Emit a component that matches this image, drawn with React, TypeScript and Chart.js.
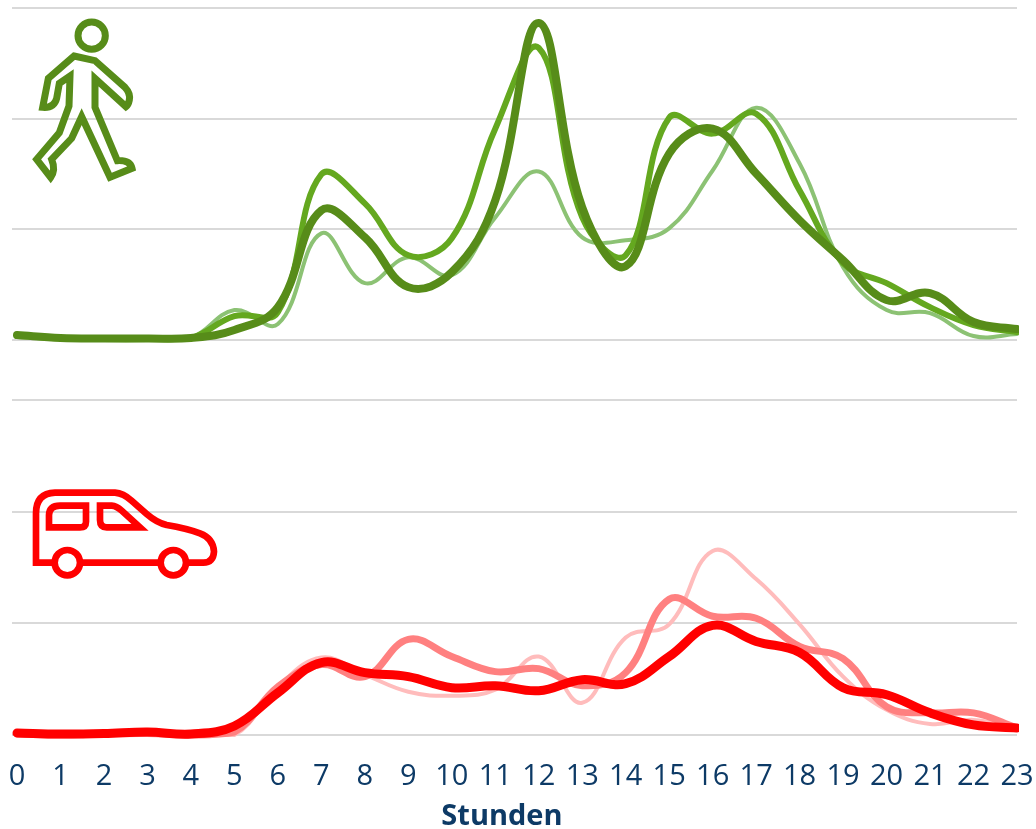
import React, { useEffect, useRef } from "react";
import { Chart, registerables } from "chart.js";

Chart.register(...registerables);

const hours = ["0","1","2","3","4","5","6","7","8","9","10","11","12","13","14","15","16","17","18","19","20","21","22","23"];

// Unlabelled axis: values are in arbitrary units (3 grid steps of 111 units)
const walkLight = [4,2,1,1,2,30,16,107,57,83,65,123,169,103,100,112,170,233,177,73,30,27,4,6];
const walkMedium = [4,2,1,1,2,24,28,166,137,85,102,212,293,123,85,223,207,227,150,77,57,33,15,8];
const walkDark = [5,2,1.5,1.5,2,10,33,130,103,53,68,140,318,133,74,187,212,167,120,80,40,47,18,11];

const carLight = [1,1,1,1,1,0,48,77,60,43,39,45,78,32,97,110,183,155,110,58,25,11,15,7];
const carMedium = [1,0,1,1.5,0,3,48,70,58,95,78,63,66,49,62,135,118,116,88,76,28,22,22,7];
const carDark = [2,1,1.5,3,1,9,42,72,62,58,47,49,44,55,51,78,109,93,82,47,40,22,10,7];

const GREENS = ["#8cc274", "#64a81f", "#578c19"];
const REDS = ["#ffbcbc", "#ff8080", "#ff0000"];
const GRID = "#d9d9d9";
const NAVY = "#0d3a66";

function makeOptions(withAxis: boolean): any {
  return {
    animation: false,
    responsive: false,
    maintainAspectRatio: false,
    layout: { padding: { left: 12, right: 19, top: 8, bottom: withAxis ? 0 : 10 } },
    plugins: { legend: { display: false }, tooltip: { enabled: false } },
    elements: { point: { radius: 0 }, line: { tension: 0.4, borderCapStyle: "round", borderJoinStyle: "round" } },
    scales: {
      x: {
        display: withAxis,
        grid: { display: false },
        border: { display: false },
        afterFit: withAxis
          ? (s: any) => {
              s.height = 99;
              s.paddingLeft = 0;
              s.paddingRight = 0;
            }
          : undefined,
        ticks: {
          autoSkip: false,
          maxRotation: 0,
          minRotation: 0,
          padding: 16,
          color: NAVY,
          font: { family: "'Open Sans'", size: 29 },
        },
        title: {
          display: withAxis,
          text: "Stunden    ",
          color: NAVY,
          font: { family: "'Open Sans'", size: 29, weight: "bold" },
          padding: { top: 0, bottom: 0 },
        },
      },
      y: {
        min: 0,
        max: 333,
        grid: { color: GRID, lineWidth: 2, tickLength: 5, tickColor: GRID, tickWidth: 2, drawTicks: true },
        border: { display: false },
        ticks: { display: false, stepSize: 111 },
      },
    },
  };
}

function makeDatasets(series: number[][], colors: string[], widths: number[]) {
  return series.map((data, i) => ({
    data,
    borderColor: colors[i],
    borderWidth: widths[i],
    clip: { left: 10, right: 2, top: 10, bottom: 10 },
    fill: false,
    order: series.length - i,
  }));
}

export default function App() {
  const topRef = useRef<HTMLCanvasElement>(null);
  const bottomRef = useRef<HTMLCanvasElement>(null);

  useEffect(() => {
    document.body.style.margin = "0";
    const top = new Chart(topRef.current!, {
      type: "line",
      data: { labels: hours, datasets: makeDatasets([walkLight, walkMedium, walkDark], GREENS, [4, 6, 8]) },
      options: makeOptions(false),
    });
    const bottom = new Chart(bottomRef.current!, {
      type: "line",
      data: { labels: hours, datasets: makeDatasets([carLight, carMedium, carDark], REDS, [4, 7, 9]) },
      options: makeOptions(true),
    });
    return () => {
      top.destroy();
      bottom.destroy();
    };
  }, []);

  return (
    <div style={{ position: "relative", width: 1036, height: 829, overflow: "hidden", background: "#fff" }}>
      <canvas ref={topRef} width={1036} height={350} style={{ position: "absolute", left: 0, top: 0 }} />
      <canvas ref={bottomRef} width={1036} height={442} style={{ position: "absolute", left: 0, top: 392 }} />
      <svg width={300} height={200} viewBox="0 0 900 600" style={{ position: "absolute", left: 0, top: 0 }}
        fill="none" stroke="#578c19" strokeWidth={21} strokeLinejoin="miter">
        <circle cx={275} cy={107} r={41} />
        <path d="M222 168 L285 182 L375 262 Q392 280 388 300 Q385 315 378 320 L285 235 L285 322 L352 482 Q390 480 396 505 L330 532 L245 350 L215 415 L155 478 Q168 510 152 532 L110 478 L178 398 L207 318 L210 228 L178 250 L170 295 Q162 325 128 322 L145 235 Z" />
      </svg>
      <svg width={300} height={130} viewBox="0 0 900 390" style={{ position: "absolute", left: 0, top: 470 }}
        fill="none" stroke="#ff0000" strokeWidth={20} strokeLinejoin="miter">
        <path d="M160 278 L108 278 L108 130 Q108 70 165 68 L345 68 Q370 70 395 92 L440 132 Q470 158 500 165 Q560 175 600 190 Q640 205 642 245 Q640 278 610 278 L565 278 M475 278 L245 278" />
        <circle cx={202} cy={278} r={38} />
        <circle cx={520} cy={278} r={38} />
        <path d="M147 172 L147 135 Q148 107 180 107 L258 107 L258 155 Q258 172 240 172 Z" />
        <path d="M300 107 L335 107 Q350 108 365 122 L420 172 L320 172 Q300 172 300 150 Z" />
      </svg>
    </div>
  );
}
